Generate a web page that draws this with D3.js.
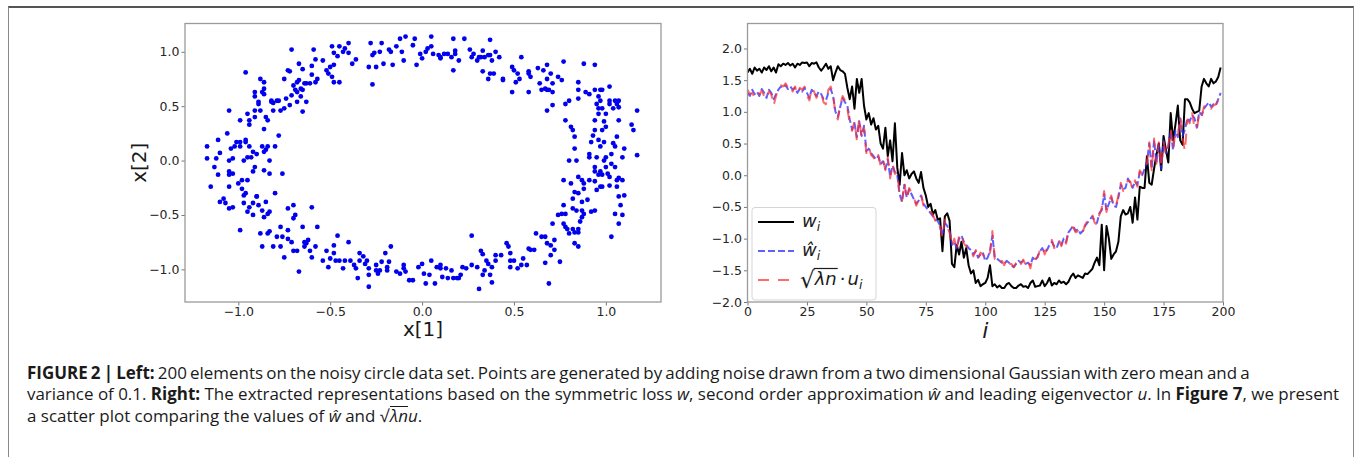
<!DOCTYPE html>
<html>
<head>
<meta charset="utf-8">
<script src="https://cdn.jsdelivr.net/npm/d3@7"></script>
<style>
body { margin: 0; background: #fff; width: 1356px; height: 457px; overflow: hidden; position: relative; }
.frame { position: absolute; left: 8px; top: 6px; width: 1346px; height: 470px; box-sizing: border-box;
  border-top: 2px solid #555; border-left: 1px solid #8a8a8a; border-right: 1px solid #8a8a8a; }
svg { position: absolute; left: 0; top: 0; }
.caption { position: absolute; left: 27px; top: 362px; font-family: "Open Sans", Roboto, sans-serif;
  font-size: 16px; line-height: 21.3px; color: #1a1a1a; white-space: nowrap; }
.caption div { display: block; }
.caption span.ln { display: inline-block; }
.caption b { font-weight: 700; }
#capFirst { word-spacing: -1.2px; }
.ov { display: inline-block; line-height: 1; border-top: 1px solid #1a1a1a; padding-top: 1px; margin-left: 1px; }
</style>
</head>
<body>
<div class="frame"></div>
<svg id="chart" width="1356" height="457"></svg>
<div class="caption">
<div><span class="ln" id="capFirst"><b>FIGURE 2 | Left:</b> 200 elements on the noisy circle data set. Points are generated by adding noise drawn from a two dimensional Gaussian with zero mean and a</span></div>
<div><span class="ln" id="capRef">variance of 0.1. <b>Right:</b> The extracted representations based on the symmetric loss <i>w</i>, second order approximation <i>w&#770;</i> and leading eigenvector <i>u</i>. In <b>Figure 7</b>, we present</span></div>
<div><span class="ln">a scatter plot comparing the values of <i>w&#770;</i> and &radic;<span class="ov"><i>&lambda;n</i></span><i>u</i>.</span></div>
</div>
<script>
// noisy circle points, [x[1], x[2]]
const circlePts = [
  [-0.71,1.02],[-0.59,1.02],[-0.49,1.05],[-0.45,1.05],[-0.40,1.08],[-0.42,1.03],[-0.40,0.99],[-0.48,0.99],
  [-0.54,0.92],[-0.58,0.93],[-0.60,0.87],[-0.65,0.84],[-0.67,0.89],[-0.73,0.83],[-0.96,0.81],[-0.88,0.75],
  [-0.86,0.72],[-0.86,0.66],[-0.91,0.63],[-0.91,0.59],[-0.87,0.63],[-0.86,0.61],[-0.82,0.55],[-0.78,0.55],
  [-0.74,0.57],[-0.71,0.60],[-0.68,0.63],[-0.66,0.66],[-0.63,0.71],[-0.58,0.72],[-0.57,0.75],[-0.51,0.80],
  [-0.49,0.77],[-0.48,0.72],[-0.45,0.72],[-0.52,0.83],[-0.50,0.86],[-0.48,0.88],[-0.46,0.96],[-0.43,1.00],
  [-0.38,0.89],[-0.36,0.93],[-0.29,0.86],[-0.28,1.08],[-0.27,0.97],[-0.26,0.99],[-0.25,0.86],[-0.27,0.70],
  [-0.23,1.00],[-0.22,1.08],[-0.21,0.89],[-0.18,1.02],[-0.17,1.00],[-0.16,0.88],[-0.14,1.05],[-0.11,1.00],
  [-0.12,1.12],[-0.09,1.14],[-0.10,0.92],[-0.05,1.06],[-0.04,1.12],[-0.03,0.88],[-0.01,0.98],[0.00,0.94],
  [0.02,1.00],[0.03,1.03],[0.05,1.14],[0.05,1.05],[0.06,0.98],[0.09,0.97],[0.10,0.95],[0.10,0.94],
  [0.12,0.98],[0.14,0.98],[0.16,0.95],[0.17,1.12],[0.18,1.01],[0.18,0.98],[0.20,0.92],[0.17,0.83],
  [0.23,1.12],[0.26,1.02],[0.28,0.98],[0.27,0.95],[0.30,0.92],[0.31,0.95],[0.33,1.01],[0.32,0.95],
  [0.34,0.95],[0.36,0.97],[0.37,1.11],[0.37,0.97],[0.38,0.92],[0.40,1.00],[0.33,0.82],[0.36,0.75],
  [0.37,0.80],[0.39,0.80],[0.44,0.75],[0.44,0.74],[0.42,0.95],[0.49,0.86],[0.50,0.83],[0.52,0.80],
  [0.53,0.75],[0.54,0.95],[0.51,0.72],[0.49,0.63],[0.58,0.82],[0.58,0.80],[0.59,0.77],[0.58,0.63],
  [0.63,0.85],[0.66,0.83],[0.68,0.88],[0.70,0.80],[0.68,0.75],[0.64,0.71],[0.65,0.65],[0.67,0.66],
  [0.68,0.65],[0.69,0.65],[0.71,0.63],[0.71,0.71],[0.74,0.77],[0.77,0.91],[0.76,0.74],[0.78,0.52],
  [0.80,0.55],[0.85,0.72],[0.85,0.65],[0.85,0.57],[0.88,0.89],[0.94,0.88],[0.89,0.63],[0.91,0.61],
  [0.94,0.65],[0.97,0.65],[0.98,0.65],[1.02,0.68],[1.02,0.55],[1.02,0.52],[1.05,0.55],[1.07,0.55],
  [1.07,0.49],[0.68,0.46],[0.71,0.51],
  [-1.17,0.13],[-1.17,0.02],[-1.15,-0.24],[-1.13,-0.06],[-1.12,0.02],[-1.11,0.19],[-1.11,-0.13],[-1.10,0.07],
  [-1.10,-0.38],[-1.07,-0.39],[-1.05,0.00],[-1.05,-0.10],[-1.05,-0.13],[-1.03,-0.12],[-1.05,-0.24],[-1.06,0.25],
  [-1.05,0.46],[-1.04,0.11],[-1.03,0.02],[-1.02,0.13],[-1.01,0.17],[-1.00,-0.21],[-0.99,0.37],[-0.99,0.17],
  [-0.99,0.13],[-0.98,-0.18],[-0.98,-0.26],[-0.97,0.00],[-0.97,-0.32],[-0.96,0.19],[-0.96,0.17],[-0.95,0.03],
  [-0.95,-0.18],[-0.95,0.43],[-0.94,0.13],[-0.94,0.33],[-0.94,0.37],[-0.93,0.03],[-0.92,-0.10],[-0.92,0.08],
  [-0.91,0.40],[-0.91,0.46],[-0.91,-0.06],[-0.90,0.06],[-0.90,-0.33],[-0.89,0.52],[-0.89,0.54],[-0.88,0.46],
  [-0.87,0.13],[-0.86,0.08],[-0.86,0.29],[-0.85,0.40],[-0.85,0.10],[-0.86,-0.09],[-0.84,0.13],[-0.84,0.37],
  [-0.83,0.00],[-0.83,-0.12],[-0.82,0.54],[-0.81,0.53],[-0.78,0.23],[-0.80,0.13],[-0.76,-0.12],[-0.75,0.75],
  [-0.72,0.82],[-0.70,0.69],[-0.69,0.65],[-0.68,0.54],[-0.65,0.45],[-0.66,0.59],[-0.65,0.65],[-0.63,0.54],
  [-0.64,0.71],[-0.61,0.71],[-0.60,0.79],[-0.67,0.74],[-0.68,0.72],[-0.77,0.46],[-0.75,0.48],[-0.72,0.51],
  [-0.79,0.55],[-0.81,0.46],
  [-1.08,-0.35],[-1.05,-0.44],[-1.03,-0.43],[-0.99,-0.64],[-0.97,-0.39],[-0.96,-0.30],[-0.95,-0.47],[-0.94,-0.43],
  [-0.92,-0.39],[-0.92,-0.50],[-0.90,-0.33],[-0.89,-0.41],[-0.88,-0.67],[-0.87,-0.46],[-0.86,-0.52],[-0.85,-0.38],
  [-0.84,-0.49],[-0.83,-0.47],[-0.87,-0.79],[-0.84,-0.67],[-0.83,-0.65],[-0.81,-0.79],[-0.80,-0.30],[-0.79,-0.70],
  [-0.77,-0.61],[-0.76,-0.70],[-0.77,-0.79],[-0.75,-0.89],[-0.73,-0.64],[-0.73,-0.72],[-0.73,-0.44],[-0.70,-0.41],
  [-0.69,-0.50],[-0.70,-0.53],[-0.70,-0.83],[-0.71,-0.75],[-0.68,-0.83],[-0.65,-0.61],[-0.64,-0.75],[-0.64,-0.79],
  [-0.63,-0.76],[-0.62,-0.73],[-0.67,-1.02],[-0.60,-0.43],[-0.61,-0.83],[-0.60,-0.89],[-0.57,-0.61],[-0.58,-0.79],
  [-0.54,-0.92],[-0.52,-0.83],[-0.51,-0.98],[-0.50,-0.90],[-0.48,-0.78],[-0.48,-0.85],[-0.47,-0.92],[-0.46,-0.69],
  [-0.45,-0.92],[-0.43,-0.99],[-0.42,-0.92],[-0.40,-0.75],[-0.39,-0.92],[-0.37,-0.96],[-0.36,-0.99],[-0.34,-0.85],
  [-0.34,-0.92],[-0.35,-1.08],[-0.32,-0.88],[-0.31,-0.95],[-0.30,-0.92],[-0.29,-1.16],[-0.29,-0.99],[-0.29,-1.05],
  [-0.25,-1.01],[-0.25,-0.96],[-0.24,-1.04],[-0.23,-1.01],[-0.22,-0.93],[-0.20,-0.85],[-0.19,-1.01],[-0.19,-0.98],
  [-0.18,-0.93],[-0.17,-0.79],[-0.14,-1.02],[-0.12,-1.04],[-0.10,-0.99],[-0.10,-0.96],[-0.09,-1.02],[-0.07,-1.10],
  [-0.05,-1.10],[-0.02,-0.98],[0.00,-0.95],[0.01,-1.04],[0.02,-1.13],[0.04,-1.05],[0.05,-0.92],[0.07,-1.13],
  [0.08,-0.98],[0.10,-0.99],[0.10,-0.96],[0.11,-1.07],[0.13,-0.99],[0.14,-1.08],[0.16,-1.01],[0.17,-1.08],
  [0.19,-1.08],[0.20,-1.08],[0.21,-1.05],[0.22,-0.98],[0.24,-0.99],[0.27,-0.69],[0.27,-0.96],[0.30,-0.98],
  [0.31,-1.18],[0.32,-0.83],[0.33,-0.86],[0.33,-1.05],[0.34,-1.01],[0.35,-0.92],[0.36,-0.95],[0.37,-1.05],
  [0.38,-0.98],[0.38,-1.12],[0.40,-0.92],[0.40,-0.87],[0.43,-0.87],[0.46,-0.76],[0.47,-0.79],[0.48,-0.85],
  [0.48,-0.92],[0.48,-0.98],[0.50,-0.92],[0.52,-0.99],[0.54,-0.96],[0.55,-0.90],[0.57,-0.96],[0.58,-0.81],
  [0.59,-0.82],[0.61,-0.82],[0.62,-0.67],[0.65,-0.70],[0.67,-0.70],[0.68,-0.76],[0.70,-0.78],[0.72,-0.82],
  [0.67,-0.94],[0.69,-1.13],[0.70,-0.87],[0.71,-0.58],[0.72,-0.73],[0.74,-0.50],[0.76,-0.49],[0.77,-0.41],
  [0.78,-0.49],[0.77,-0.58],[0.78,-0.61],[0.79,-0.63],[0.80,-0.67],[0.82,-0.63],[0.83,-0.66],[0.83,-0.76],
  [0.85,-0.66],[0.85,-0.79],[0.75,-0.93],
  [0.78,0.37],[0.81,0.31],[0.82,0.28],[0.83,0.22],[0.83,0.11],[0.80,0.00],[0.84,0.00],[0.85,-0.15],
  [0.87,-0.18],[0.88,-0.21],[0.85,-0.30],[0.82,-0.35],[0.77,-0.18],[0.81,-0.21],[0.83,-0.29],[0.82,-0.44],
  [0.84,-0.46],[0.87,-0.38],[0.87,-0.46],[0.87,-0.52],[0.86,-0.56],[0.85,-0.63],[0.88,-0.26],[0.91,-0.18],
  [0.91,0.03],[0.92,0.17],[0.93,0.23],[0.94,0.28],[0.94,0.37],[0.95,0.52],[0.96,0.43],[0.96,0.48],
  [0.96,0.59],[0.97,0.55],[0.98,0.48],[0.99,0.36],[1.00,0.43],[1.00,0.31],[0.98,0.28],[0.99,0.17],
  [1.00,0.03],[0.99,0.00],[1.00,-0.06],[1.01,-0.12],[1.02,-0.15],[1.02,-0.23],[1.03,-0.03],[1.03,0.06],
  [1.04,0.16],[1.05,0.13],[1.06,0.22],[1.07,0.37],[1.05,-0.06],[1.06,-0.18],[1.07,-0.16],[1.09,-0.18],
  [1.09,0.03],[1.10,0.11],[1.06,-0.24],[1.07,-0.33],[1.08,-0.41],[1.09,-0.50],[1.07,-0.58],[1.05,-0.49],
  [1.03,-0.70],[0.94,-0.06],[0.94,-0.10],[0.94,-0.19],[0.95,-0.27],[0.97,-0.24],[0.98,-0.24],[0.98,-0.13],
  [0.95,0.03],[0.96,0.19],[0.97,0.13],[1.14,0.33],[1.15,0.28],[1.17,0.46],[1.17,0.05],[1.10,-0.32],
  [1.06,0.52],[1.04,0.48],[0.94,-0.46],[0.92,-0.47],[0.90,-0.36],[0.88,-0.49],[0.91,0.06],[0.97,-0.10],
  [0.96,-0.13]
];

// extracted representations, index i = 0..199
const wVals = [
  1.62,1.68,1.6,1.7,1.65,1.68,1.62,1.7,1.66,1.72,
  1.64,1.7,1.62,1.75,1.72,1.76,1.74,1.77,1.73,1.76,
  1.7,1.76,1.74,1.78,1.77,1.78,1.72,1.77,1.76,1.78,
  1.7,1.65,1.7,1.76,1.68,1.72,1.5,1.62,1.72,1.66,
  1.64,1.6,1.38,1.2,1.4,1.05,1.52,1.3,1.52,1.1,
  0.88,0.98,0.8,0.9,0.72,0.78,0.5,0.42,0.75,0.3,
  0.55,0.22,0.82,0.12,-0.15,0.35,0.0,0.08,-0.05,0.02,
  0.06,-0.05,-0.12,0.05,-0.2,-0.32,-0.5,-0.45,-0.62,-0.55,
  -0.7,-0.68,-1.2,-0.65,-0.6,-0.72,-1.4,-1.45,-1.1,-1.25,
  -1.05,-1.3,-1.15,-1.42,-1.55,-1.5,-1.7,-1.65,-1.75,-1.72,
  -1.7,-1.62,-1.42,-1.75,-1.72,-1.77,-1.74,-1.78,-1.78,-1.72,
  -1.7,-1.75,-1.78,-1.78,-1.74,-1.72,-1.76,-1.75,-1.78,-1.7,
  -1.66,-1.76,-1.75,-1.74,-1.66,-1.75,-1.7,-1.62,-1.74,-1.7,
  -1.72,-1.66,-1.7,-1.68,-1.72,-1.68,-1.6,-1.55,-1.62,-1.58,
  -1.6,-1.62,-1.55,-1.56,-1.52,-1.48,-1.38,-1.3,-1.42,-0.78,
  -1.5,-0.8,-1.0,-1.32,-1.25,-1.2,-1.05,-0.65,-0.55,-0.62,
  -0.6,-0.5,-0.75,-0.35,-0.7,-0.18,-0.2,-0.2,0.3,-0.12,
  -0.15,0.1,0.32,0.5,0.08,0.62,0.4,0.2,0.98,0.55,
  0.8,1.1,0.55,0.48,1.2,1.2,1.15,1.05,0.98,1.0,
  1.02,1.4,1.52,1.45,1.4,1.52,1.45,1.48,1.55,1.7
];
const wHatVals = [
  1.3,1.25,1.35,1.28,1.32,1.25,1.36,1.3,1.22,1.35,
  1.3,1.2,1.28,1.35,1.4,1.38,1.42,1.36,1.4,1.35,
  1.38,1.3,1.36,1.32,1.38,1.3,1.22,1.35,1.3,1.25,
  1.32,1.28,1.2,1.18,1.3,1.36,1.25,1.0,0.92,1.08,
  1.22,1.15,1.1,0.88,0.72,0.82,0.6,0.85,0.62,0.78,
  0.38,0.42,0.35,0.3,0.25,0.3,0.18,0.22,0.1,0.25,
  -0.02,0.15,0.05,0.0,-0.3,-0.42,-0.15,-0.35,-0.22,-0.3,
  -0.38,-0.45,-0.4,-0.32,-0.45,-0.5,-0.55,-0.6,-0.65,-0.7,
  -0.72,-0.8,-0.95,-0.75,-0.8,-0.88,-1.1,-1.05,-1.15,-1.0,
  -0.95,-1.05,-1.1,-1.15,-1.18,-1.25,-1.2,-1.3,-1.25,-1.22,
  -1.35,-1.3,-1.2,-0.95,-1.3,-1.32,-1.35,-1.38,-1.4,-1.35,
  -1.38,-1.42,-1.45,-1.4,-1.35,-1.38,-1.35,-1.4,-1.38,-1.42,
  -1.3,-1.35,-1.28,-1.2,-1.15,-1.22,-1.18,-1.1,-1.05,-1.12,
  -1.15,-1.05,-1.1,-1.0,-1.05,-0.9,-0.85,-0.8,-0.88,-0.85,
  -0.92,-0.88,-0.8,-0.75,-0.7,-0.65,-0.72,-0.75,-0.6,-0.55,
  -0.3,-0.55,-0.45,-0.35,-0.48,-0.5,-0.35,-0.15,-0.22,-0.2,
  -0.05,-0.12,-0.2,-0.1,-0.15,0.05,0.0,0.1,0.2,0.5,
  0.1,0.55,0.2,0.5,0.1,0.55,0.35,0.45,0.7,0.4,
  0.7,0.6,0.9,0.62,0.72,0.9,0.85,0.95,0.9,0.75,
  1.0,0.95,1.05,1.1,1.15,1.08,1.12,1.1,1.2,1.3
];
const sqrtLnUVals = [
  1.35,1.28,1.3,1.22,1.3,1.28,1.33,1.25,1.2,1.32,
  1.28,1.1,1.25,1.38,1.42,1.4,1.45,1.38,1.42,1.32,
  1.4,1.28,1.38,1.35,1.4,1.26,1.18,1.38,1.32,1.22,
  1.3,1.3,1.15,1.12,1.35,1.4,1.28,0.95,0.88,1.1,
  1.25,1.18,1.05,0.82,0.7,0.85,0.55,0.9,0.58,0.75,
  0.35,0.45,0.32,0.28,0.22,0.32,0.15,0.25,0.08,0.28,
  -0.05,0.18,0.02,0.05,-0.35,-0.4,-0.12,-0.38,-0.2,-0.28,
  -0.35,-0.48,-0.38,-0.3,-0.48,-0.52,-0.58,-0.58,-0.62,-0.72,
  -0.7,-0.82,-0.98,-0.7,-0.82,-0.9,-1.12,-1.0,-1.18,-0.95,
  -0.92,-1.08,-1.12,-1.12,-1.2,-1.28,-1.18,-1.32,-1.22,-1.25,
  -1.32,-1.28,-1.22,-0.88,-1.32,-1.3,-1.38,-1.35,-1.42,-1.32,
  -1.4,-1.4,-1.45,-1.38,-1.32,-1.4,-1.33,-1.42,-1.35,-1.47,
  -1.28,-1.32,-1.3,-1.18,-1.12,-1.25,-1.15,-1.08,-1.02,-1.15,
  -1.12,-1.02,-1.12,-0.98,-1.08,-0.88,-0.82,-0.82,-0.9,-0.88,
  -0.95,-0.9,-0.78,-0.72,-0.68,-0.62,-0.75,-0.78,-0.62,-0.52,
  -0.25,-0.58,-0.42,-0.32,-0.5,-0.48,-0.32,-0.12,-0.25,-0.18,
  -0.08,-0.1,-0.22,-0.08,-0.18,0.08,0.02,0.12,0.18,0.52,
  0.08,0.58,0.18,0.52,0.12,0.52,0.32,0.48,0.72,0.42,
  0.68,0.62,0.92,0.58,0.38,0.88,0.82,0.98,0.75,0.72,
  0.98,0.92,1.08,1.12,1.12,1.05,1.1,1.12,1.18,1.25
];

const leftTicks = [-1.0, -0.5, 0.0, 0.5, 1.0];
const rightXTicks = [0, 25, 50, 75, 100, 125, 150, 175, 200];
const rightYTicks = [-2.0, -1.5, -1.0, -0.5, 0.0, 0.5, 1.0, 1.5, 2.0];

// caption: size the font so the second (full) line spans the same width as in the figure
const capRef = document.getElementById("capRef");
const capBase = capRef.getBoundingClientRect().width;
d3.select(".caption").style("font-size", (16 * 1313 / capBase).toFixed(2) + "px");

const svg = d3.select("#chart");
const tickFont = "DejaVu Sans";
const fmt = d3.format(".1f");

function styleAxis(g) {
  g.selectAll(".domain").remove();
  g.selectAll(".tick line").attr("stroke", "#777").attr("stroke-width", 1);
  g.selectAll(".tick text").attr("fill", "#262626")
    .style("font-family", tickFont).style("font-size", "12.5px");
}

// ---- left: noisy circle scatter ----
const L = { left: 185, right: 661, top: 23.5, bottom: 302 };
const lx = d3.scaleLinear().domain([-1.29, 1.30]).range([L.left, L.right]);
const ly = d3.scaleLinear().domain([-1.30, 1.26]).range([L.bottom, L.top]);

svg.append("g").attr("transform", `translate(0,${L.bottom})`)
  .call(d3.axisBottom(lx).tickValues(leftTicks).tickFormat(fmt).tickSize(3.5).tickPadding(2))
  .call(styleAxis);
svg.append("g").attr("transform", `translate(${L.left},0)`)
  .call(d3.axisLeft(ly).tickValues(leftTicks).tickFormat(fmt).tickSize(3.5).tickPadding(2))
  .call(styleAxis);

svg.append("g").selectAll("circle")
  .data(circlePts)
  .enter()
  .append("circle")
  .attr("cx", d => lx(d[0]))
  .attr("cy", d => ly(d[1]))
  .attr("r", 2.4)
  .attr("fill", "#0000ee");

svg.append("rect")
  .attr("x", L.left).attr("y", L.top)
  .attr("width", L.right - L.left).attr("height", L.bottom - L.top)
  .attr("fill", "none").attr("stroke", "#9a9a9a").attr("stroke-width", 1.3);

svg.append("text")
  .attr("x", (L.left + L.right) / 2).attr("y", 336)
  .attr("text-anchor", "middle")
  .style("font-family", tickFont).style("font-size", "20px").attr("fill", "#1a1a1a")
  .text("x[1]");
svg.append("text")
  .attr("transform", `translate(146,${(L.top + L.bottom) / 2}) rotate(-90)`)
  .attr("text-anchor", "middle")
  .style("font-family", tickFont).style("font-size", "20px").attr("fill", "#1a1a1a")
  .text("x[2]");

// ---- right: representations ----
const R = { left: 747.5, right: 1223, top: 23.5, bottom: 302 };
const rx = d3.scaleLinear().domain([0, 200]).range([R.left, R.right]);
const ry = d3.scaleLinear().domain([-2.0, 2.394]).range([R.bottom, R.top]);

svg.append("g").attr("transform", `translate(0,${R.bottom})`)
  .call(d3.axisBottom(rx).tickValues(rightXTicks).tickFormat(d3.format("d")).tickSize(3.5).tickPadding(2))
  .call(styleAxis);
svg.append("g").attr("transform", `translate(${R.left},0)`)
  .call(d3.axisLeft(ry).tickValues(rightYTicks).tickFormat(fmt).tickSize(3.5).tickPadding(2))
  .call(styleAxis);

const line = d3.line().x((d, i) => rx(i)).y(d => ry(d));

const series = [
  { vals: wVals, color: "#000", opacity: 1, dash: null },
  { vals: wHatVals, color: "#2b2bff", opacity: 0.75, dash: "7,3" },
  { vals: sqrtLnUVals, color: "#ff2b2b", opacity: 0.7, dash: "11,9" }
];
svg.append("g").selectAll("path")
  .data(series)
  .enter()
  .append("path")
  .attr("d", d => line(d.vals))
  .attr("fill", "none")
  .attr("stroke", d => d.color)
  .attr("stroke-opacity", d => d.opacity)
  .attr("stroke-width", 2)
  .attr("stroke-dasharray", d => d.dash)
  .attr("stroke-linejoin", "round");

svg.append("rect")
  .attr("x", R.left).attr("y", R.top)
  .attr("width", R.right - R.left).attr("height", R.bottom - R.top)
  .attr("fill", "none").attr("stroke", "#9a9a9a").attr("stroke-width", 1.3);

svg.append("text")
  .attr("x", (R.left + R.right) / 2).attr("y", 338)
  .attr("text-anchor", "middle")
  .style("font-family", tickFont).style("font-size", "22px").style("font-style", "italic")
  .attr("fill", "#1a1a1a")
  .text("i");

// legend
const leg = svg.append("g");
leg.append("rect")
  .attr("x", 752).attr("y", 207.5).attr("width", 124).attr("height", 92.5)
  .attr("rx", 3).attr("fill", "#fff").attr("fill-opacity", 0.85)
  .attr("stroke", "#d5d5d5").attr("stroke-width", 1);

const legRows = [222, 251, 280];
series.forEach((s, k) => {
  leg.append("line")
    .attr("x1", 758).attr("x2", 794).attr("y1", legRows[k]).attr("y2", legRows[k])
    .attr("stroke", s.color).attr("stroke-opacity", s.opacity)
    .attr("stroke-width", 2).attr("stroke-dasharray", s.dash);
});

function mathText(x, y, str, size, italic) {
  const t = leg.append("text").attr("x", x).attr("y", y)
    .style("font-family", tickFont).style("font-size", size + "px")
    .style("font-style", italic ? "italic" : "normal").attr("fill", "#1a1a1a").text(str);
  return t.node().getComputedTextLength();
}
// w_i
let w = mathText(802, legRows[0] + 5, "w", 18, true);
mathText(802 + w, legRows[0] + 9, "i", 12.5, true);
// w-hat_i
w = mathText(802, legRows[1] + 5, "w\u0302", 18, true);
mathText(802 + w, legRows[1] + 9, "i", 12.5, true);
// sqrt(lambda n) . u_i
let cx = 800;
w = mathText(cx, legRows[2] + 8, "\u221A", 23, false); cx += w;
const ovStart = cx;
w = mathText(cx, legRows[2] + 5, "\u03BBn", 18, true); cx += w + 1;
leg.append("line").attr("x1", ovStart - 1).attr("x2", cx)
  .attr("y1", legRows[2] - 11.5).attr("y2", legRows[2] - 11.5)
  .attr("stroke", "#1a1a1a").attr("stroke-width", 1.2);
w = mathText(cx + 2, legRows[2] + 5, "\u00B7", 18, false); cx += w + 4;
w = mathText(cx, legRows[2] + 5, "u", 18, true); cx += w;
mathText(cx, legRows[2] + 9, "i", 12.5, true);
</script>
</body>
</html>
